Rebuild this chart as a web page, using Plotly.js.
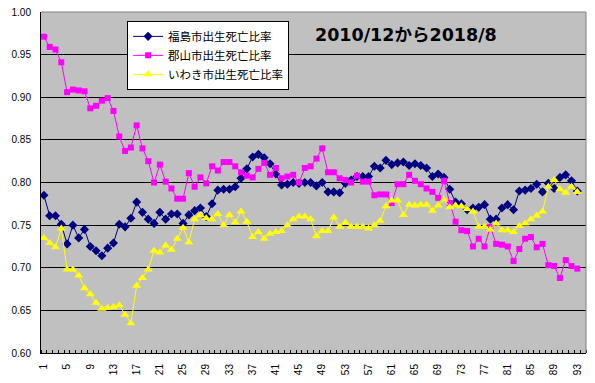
<!DOCTYPE html>
<html>
<head>
<meta charset="utf-8">
<script src="https://cdn.plot.ly/plotly-3.0.1.min.js"></script>
<style>html,body{margin:0;padding:0;background:#fff;}#chart{width:595px;height:383px;}</style>
</head>
<body>
<div id="chart"></div>
<script>
// 月次インデックス (1 = 2010/12 … 93 = 2018/8)
const months = [];
for (let i = 1; i <= 93; i++) months.push(i);

const tickLabels = [1,5,9,13,17,21,25,29,33,37,41,45,49,53,57,61,65,69,73,77,81,85,89,93];

const seriesNames = ["福島市出生死亡比率", "郡山市出生死亡比率", "いわき市出生死亡比率"];

const fukushima = [
  0.785,0.761,0.761,0.751,0.728,0.750,0.735,0.745,0.725,0.720,
  0.714,0.723,0.729,0.751,0.748,0.758,0.777,0.765,0.757,0.752,
  0.765,0.757,0.763,0.763,0.752,0.762,0.767,0.770,0.760,0.775,
  0.791,0.792,0.792,0.795,0.805,0.816,0.830,0.833,0.829,0.822,
  0.810,0.797,0.798,0.800,0.799,0.800,0.800,0.796,0.800,0.789,
  0.789,0.788,0.799,0.803,0.807,0.807,0.807,0.819,0.817,0.826,
  0.821,0.823,0.824,0.820,0.822,0.820,0.817,0.807,0.810,0.806,
  0.792,0.777,0.775,0.768,0.770,0.771,0.774,0.757,0.757,0.770,
  0.774,0.768,0.790,0.791,0.793,0.798,0.789,0.799,0.793,0.806,
  0.809,0.802,0.790
];

const koriyama = [
  0.971,0.959,0.956,0.941,0.906,0.909,0.908,0.907,0.887,0.890,
  0.896,0.899,0.884,0.854,0.837,0.841,0.867,0.840,0.825,0.800,
  0.821,0.801,0.793,0.781,0.781,0.811,0.795,0.806,0.799,0.819,
  0.814,0.824,0.824,0.819,0.812,0.808,0.806,0.816,0.823,0.809,
  0.817,0.805,0.807,0.809,0.800,0.817,0.819,0.828,0.840,0.812,
  0.812,0.805,0.803,0.800,0.808,0.801,0.801,0.785,0.786,0.786,
  0.776,0.798,0.798,0.809,0.802,0.798,0.793,0.789,0.782,0.802,
  0.776,0.754,0.744,0.743,0.725,0.734,0.725,0.748,0.728,0.727,
  0.725,0.708,0.722,0.734,0.736,0.724,0.728,0.703,0.702,0.688,
  0.709,0.702,0.699
];

const iwaki = [
  0.735,0.729,0.724,0.746,0.698,0.698,0.691,0.676,0.669,0.659,
  0.652,0.653,0.654,0.656,0.645,0.635,0.679,0.688,0.698,0.720,
  0.718,0.726,0.721,0.734,0.747,0.730,0.757,0.762,0.758,0.757,
  0.763,0.750,0.762,0.753,0.766,0.754,0.736,0.742,0.734,0.740,
  0.742,0.743,0.750,0.757,0.760,0.760,0.757,0.737,0.743,0.743,
  0.759,0.748,0.753,0.748,0.748,0.748,0.746,0.750,0.755,0.772,
  0.779,0.779,0.762,0.774,0.773,0.774,0.774,0.767,0.773,0.780,
  0.771,0.773,0.772,0.769,0.766,0.748,0.748,0.745,0.752,0.744,
  0.744,0.742,0.749,0.752,0.757,0.761,0.766,0.795,0.803,0.792,
  0.788,0.795,0.789
];

const titleText = "2010/12から2018/8";

const traces = [
  {x: months, y: fukushima, name: seriesNames[0], type: "scatter", mode: "lines+markers",
   line: {color: "#000080", width: 1}, marker: {symbol: "diamond", size: 7, color: "#000080"}},
  {x: months, y: koriyama, name: seriesNames[1], type: "scatter", mode: "lines+markers",
   line: {color: "#FF00FF", width: 1}, marker: {symbol: "square", size: 6, color: "#FF00FF"}},
  {x: months, y: iwaki, name: seriesNames[2], type: "scatter", mode: "lines+markers",
   line: {color: "#FFFF00", width: 1}, marker: {symbol: "triangle-up", size: 8, color: "#FFFF00"}}
];

const layout = {
  width: 595, height: 383,
  margin: {l: 41, r: 9, t: 12, b: 30, pad: 0},
  paper_bgcolor: "#ffffff",
  plot_bgcolor: "#C0C0C0",
  font: {family: "Liberation Sans, Arial, sans-serif", size: 10, color: "#000"},
  showlegend: true,
  legend: {
    x: 0.158, y: 0.974, xanchor: "left", yanchor: "top",
    bgcolor: "#ffffff", bordercolor: "#000000", borderwidth: 1,
    font: {family: "Noto Sans CJK JP, sans-serif", size: 11.5, color: "#000"},
    tracegroupgap: 0, itemwidth: 30
  },
  xaxis: {
    range: [0.5, 94.5],
    tickmode: "array", tickvals: tickLabels, ticktext: tickLabels.map(String),
    tickangle: -90, ticks: "outside", ticklen: 6, tickcolor: "rgba(0,0,0,0)",
    tickfont: {family: "Liberation Sans, Arial, sans-serif", size: 10},
    showgrid: false, zeroline: false,
    showline: true, linecolor: "#000000", linewidth: 1,
    minor: {tick0: 0.5, dtick: 1, ticks: "inside", ticklen: 3, tickcolor: "#000000", tickwidth: 1, showgrid: false}
  },
  yaxis: {
    range: [0.6, 1.0], dtick: 0.05, tick0: 0.6, tickformat: ".2f",
    ticks: "outside", ticklen: 7, tickcolor: "rgba(0,0,0,0)",
    tickfont: {family: "Liberation Sans, Arial, sans-serif", size: 10},
    showgrid: true, gridcolor: "#000000", gridwidth: 1,
    zeroline: false, showline: true, linecolor: "#000000", linewidth: 1
  },
  shapes: [
    {type: "line", xref: "paper", yref: "paper", x0: 0, x1: 1, y0: 1, y1: 1, line: {color: "#808080", width: 1}, layer: "above"},
    {type: "line", xref: "paper", yref: "paper", x0: 1, x1: 1, y0: 0, y1: 1, line: {color: "#808080", width: 1}, layer: "above"}
  ],
  annotations: [
    {text: "<b>" + titleText + "</b>", xref: "paper", yref: "paper", x: 0.499, y: 0.933,
     xanchor: "left", yanchor: "middle", showarrow: false,
     font: {family: "DejaVu Sans, Noto Sans CJK JP, sans-serif", size: 17.5, color: "#000"}}
  ]
};

Plotly.newPlot("chart", traces, layout, {displayModeBar: false, staticPlot: true});
</script>
</body>
</html>
